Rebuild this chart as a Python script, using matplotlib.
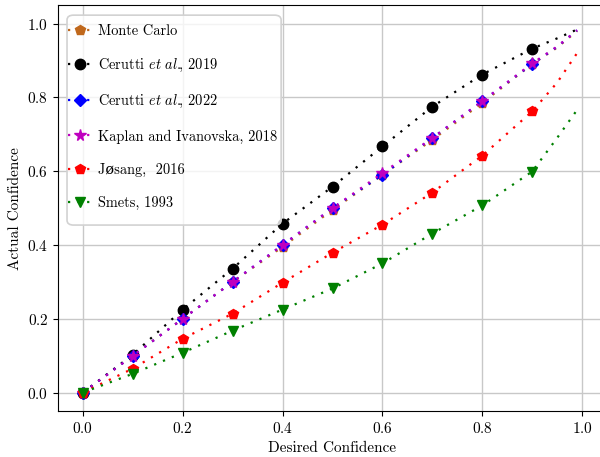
import matplotlib
matplotlib.use("Agg")
import matplotlib.pyplot as plt
from matplotlib.patches import FancyBboxPatch

plt.rcParams['font.family'] = ['cmr10', 'DejaVu Serif']
plt.rcParams['mathtext.fontset'] = 'cm'
plt.rcParams['axes.formatter.use_mathtext'] = True
plt.rcParams['axes.unicode_minus'] = False

# x positions: markers at 0.0..0.9, extra line points at 0.95 and 0.99
x = [0.0, 0.1, 0.2, 0.3, 0.4, 0.5, 0.6, 0.7, 0.8, 0.9, 0.95, 0.99]

monte_carlo = [0.0, 0.10, 0.20, 0.30, 0.395, 0.495, 0.59, 0.685, 0.785, 0.89, 0.935, 0.98]
cerutti_2019 = [0.0, 0.103, 0.225, 0.336, 0.458, 0.558, 0.667, 0.775, 0.862, 0.932, 0.96, 0.984]
cerutti_2022 = [0.0, 0.10, 0.20, 0.30, 0.40, 0.50, 0.59, 0.69, 0.79, 0.89, 0.937, 0.982]
kaplan_2018 = [0.0, 0.10, 0.20, 0.30, 0.40, 0.50, 0.595, 0.69, 0.79, 0.892, 0.938, 0.982]
josang_2016 = [0.0, 0.065, 0.146, 0.214, 0.298, 0.379, 0.455, 0.542, 0.642, 0.762, 0.84, 0.92]
smets_1993 = [0.0, 0.051, 0.108, 0.168, 0.225, 0.282, 0.35, 0.431, 0.507, 0.599, 0.69, 0.766]

series = [
    ("Monte Carlo", monte_carlo, "#c0681c", "p"),
    (r"Cerutti $\mathit{et\ al.}\!\!$, 2019", cerutti_2019, "black", "o"),
    (r"Cerutti $\mathit{et\ al.}\!\!$, 2022", cerutti_2022, "blue", "D"),
    ("Kaplan and Ivanovska, 2018", kaplan_2018, "#bf00bf", "*"),
    ("Jøsang,  2016", josang_2016, "red", "p"),
    ("Smets, 1993", smets_1993, "green", "v"),
]
msizes = {"p": 7.5, "o": 7.5, "D": 6.5, "*": 8.5, "v": 7.5}

fig = plt.figure(figsize=(6.0, 4.57), dpi=100)
ax = fig.add_axes([0.0967, 0.1007, 0.915, 0.888])

for label, y, c, m in series:
    ax.plot(x, y, color=c, marker=m, markersize=msizes[m], linestyle=(0, (1, 3.3)),
            linewidth=1.6, markevery=list(range(10)), label=label)

ax.set_xlim(-0.05, 1.05)
ax.set_ylim(-0.05, 1.05)
ax.set_xticks([0.0, 0.2, 0.4, 0.6, 0.8, 1.0])
ax.set_yticks([0.0, 0.2, 0.4, 0.6, 0.8, 1.0])
ax.grid(True, color='#c8c8c8', linewidth=1.0)
ax.set_axisbelow(True)
ax.tick_params(labelsize=11)
ax.set_xlabel("Desired Confidence", fontsize=11)
ax.set_ylabel("Actual Confidence", fontsize=11)

# legend frame drawn separately (offset as in the reference)
frame = FancyBboxPatch((0.0164, 0.4581), 0.3900, 0.5173,
                       boxstyle="round,pad=0,rounding_size=0.012",
                       transform=ax.transAxes, facecolor='white', alpha=0.8,
                       edgecolor='none', zorder=4.8)
ax.add_patch(frame)
frame_edge = FancyBboxPatch((0.0164, 0.4581), 0.3900, 0.5173,
                            boxstyle="round,pad=0,rounding_size=0.012",
                            transform=ax.transAxes, facecolor='none',
                            edgecolor='#d2d2d2', linewidth=1.2, zorder=4.9)
ax.add_patch(frame_edge)

ax.legend(loc='upper left', bbox_to_anchor=(0.0182, 0.953), fontsize=10.4,
          labelspacing=1.32, handlelength=1.7, handletextpad=0.35,
          borderpad=0.0, borderaxespad=0.0, frameon=False)

fig.savefig("out.png", dpi=100)
